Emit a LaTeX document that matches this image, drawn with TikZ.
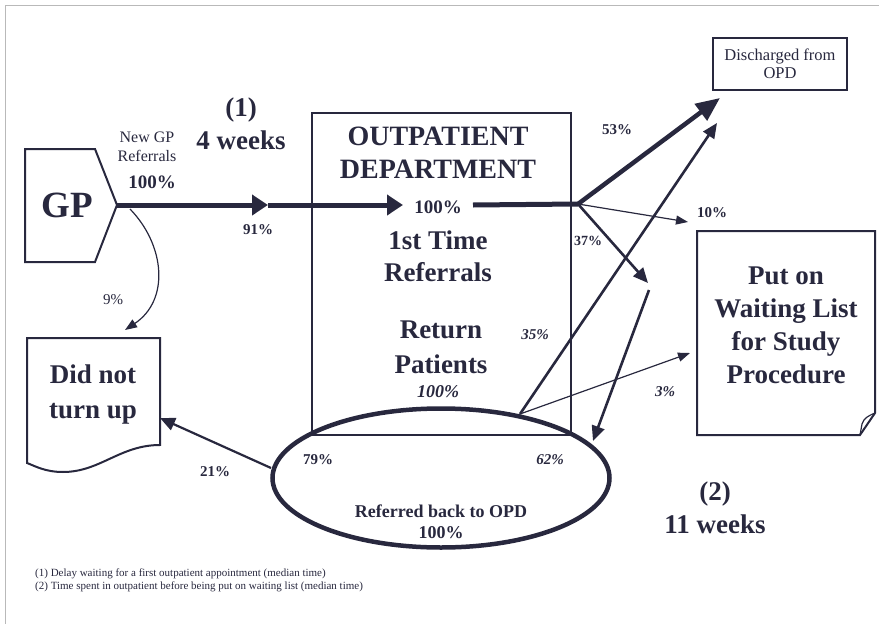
\documentclass[tikz,border=0pt]{standalone}
\usepackage{fontspec}
\setmainfont{Liberation Serif}
\usepackage{xcolor}
\usepackage{tikz}
\usetikzlibrary{arrows.meta, shapes.geometric}

\definecolor{ink}{RGB}{40,40,62}

\begin{document}
\begin{tikzpicture}[
x=1pt, y=-1pt,
box/.style = {draw=ink, line width=2pt},
bigtext/.style = {text=ink, inner sep=0pt, align=center,
                  font=\bfseries\fontsize{27}{33}\selectfont},
midtext/.style = {text=ink, inner sep=0pt, align=center,
                  font=\bfseries\fontsize{18}{21}\selectfont},
smalltext/.style = {text=ink, inner sep=0pt, align=center,
                    font=\fontsize{16}{19}\selectfont},
pct/.style = {text=ink, inner sep=0pt, font=\bfseries\fontsize{15}{17}\selectfont},
ipct/.style = {pct, font=\bfseries\itshape\fontsize{15}{17}\selectfont},
heavy/.style = {draw=ink, line width=5pt, -{Triangle[length=16pt, width=20pt]}},
medium/.style = {draw=ink, line width=2.6pt, -{Triangle[length=15pt, width=13pt]}},
light/.style = {draw=ink, line width=1.2pt, -{Triangle[length=12pt, width=9pt]}},
                        ]
\useasboundingbox (0,0) rectangle (879,624);
\draw[gray!55, line width=1pt] (5,624) -- (5,5) -- (879,5);

% GP
\draw[box] (25,149) -- (95,149) -- (117,205) coordinate (gptip)
           -- (95,262) -- (25,262) -- cycle;
\node (gp) [bigtext, font=\bfseries\fontsize{37}{40}\selectfont] at (67,205) {GP};
\node (newgp) [smalltext] at (147,147) {New GP\\Referrals};
\node (gp100) [pct, font=\bfseries\fontsize{19}{21}\selectfont] at (152,182) {100\%};
\node (delay1) [bigtext] at (241,124) {(1)\\4 weeks};

% outpatient department
\node (opd) [box, minimum width=259pt, minimum height=322pt] at (441.5,274) {};
\node (opdtitle) [bigtext, font=\bfseries\fontsize{28}{33}\selectfont] at (438,153)
      {OUTPATIENT\\DEPARTMENT};
\node (opd100) [pct, font=\bfseries\fontsize{19}{21}\selectfont] at (438,207) {100\%};
\node (first) [bigtext, font=\bfseries\fontsize{27}{32}\selectfont] at (438,256)
      {1st Time\\Referrals};
\node (ret) [bigtext, font=\bfseries\fontsize{27}{35}\selectfont] at (441,347)
      {Return\\Patients};
\node (ret100) [ipct, font=\bfseries\itshape\fontsize{18}{21}\selectfont] at (438,392) {100\%};

% referred back
\node (back) [ellipse, draw=ink, line width=4.5pt, minimum width=337pt,
              minimum height=139pt] at (441,478) {};
\node (backtxt) [midtext] at (441,522) {Referred back to OPD\\100\%};
\coordinate (eout) at (520,414);

% outcomes
\node (dis) [box, line width=1.8pt, minimum width=134pt, minimum height=52pt,
             smalltext, font=\fontsize{16.5}{18}\selectfont] at (780,64)
      {Discharged from\\OPD};
\draw[box] (697,231) -- (875,231) -- (875,413) -- (860,435) -- (697,435) -- cycle;
\draw[draw=ink, line width=1.2pt] (875,413) .. controls (868,416) and (864,418) .. (862,424)
      -- (860,435);
\node (wait) [bigtext] at (786,325) {Put on\\Waiting List\\for Study\\Procedure};
\draw[box] (27,338) -- (160,338) -- (160,445)
      .. controls (120,445) and (100,472) .. (63,472)
      .. controls (45,472) and (35,466) .. (27,463) -- cycle;
\node (dnt) [bigtext, font=\bfseries\fontsize{27}{35}\selectfont] at (93,395)
      {Did not\\turn up};
\node (delay2) [bigtext] at (715,508) {(2)\\11 weeks};

% flows
\coordinate (m1) at (268,205);
\coordinate (opdin) at (403,205);
\coordinate (opdout) at (473,205);
\coordinate (j) at (578,204);
\draw[heavy] (gptip) -- (m1);
\draw[heavy] (m1) -- (opdin);
\draw[draw=ink, line width=5pt] (opdout) -- (j);
\draw[heavy, line width=4.5pt, -{Triangle[length=24pt, width=20pt]}] (j) -- (720,98);
\draw[light] (j) -- (688,222);
\draw[medium] (j) -- (648,283);
\draw[medium] (649,290) -- (593,441);
\draw[medium] (eout) -- (717,123);
\draw[light] (eout) -- (690,353);
\draw[medium, line width=2.2pt] (271,468) -- (160,418);
\draw[light] (130,209) .. controls (165,245) and (170,300) .. (125,330);

\node (p91) [pct] at (258,230) {91\%};
\node (p53) [pct] at (617,130) {53\%};
\node (p10) [pct] at (712,213) {10\%};
\node (p37) [pct, font=\bfseries\fontsize{14}{16}\selectfont] at (588,241) {37\%};
\node (p35) [ipct] at (535,335) {35\%};
\node (p3) [ipct] at (665,392) {3\%};
\node (p62) [ipct] at (550,460) {62\%};
\node (p79) [pct] at (318,460) {79\%};
\node (p21) [pct] at (215,472) {21\%};
\node (p9) [pct, font=\fontsize{15}{17}\selectfont] at (113,300) {9\%};

% notes
\node (note) [text=ink, inner sep=0pt, anchor=north west, align=left,
              font=\fontsize{11}{12.5}\selectfont] at (35,569)
      {(1) Delay waiting for a first outpatient appointment (median time)\\
       (2) Time spent in outpatient before being put on waiting list (median time)};
\end{tikzpicture}
\end{document}
